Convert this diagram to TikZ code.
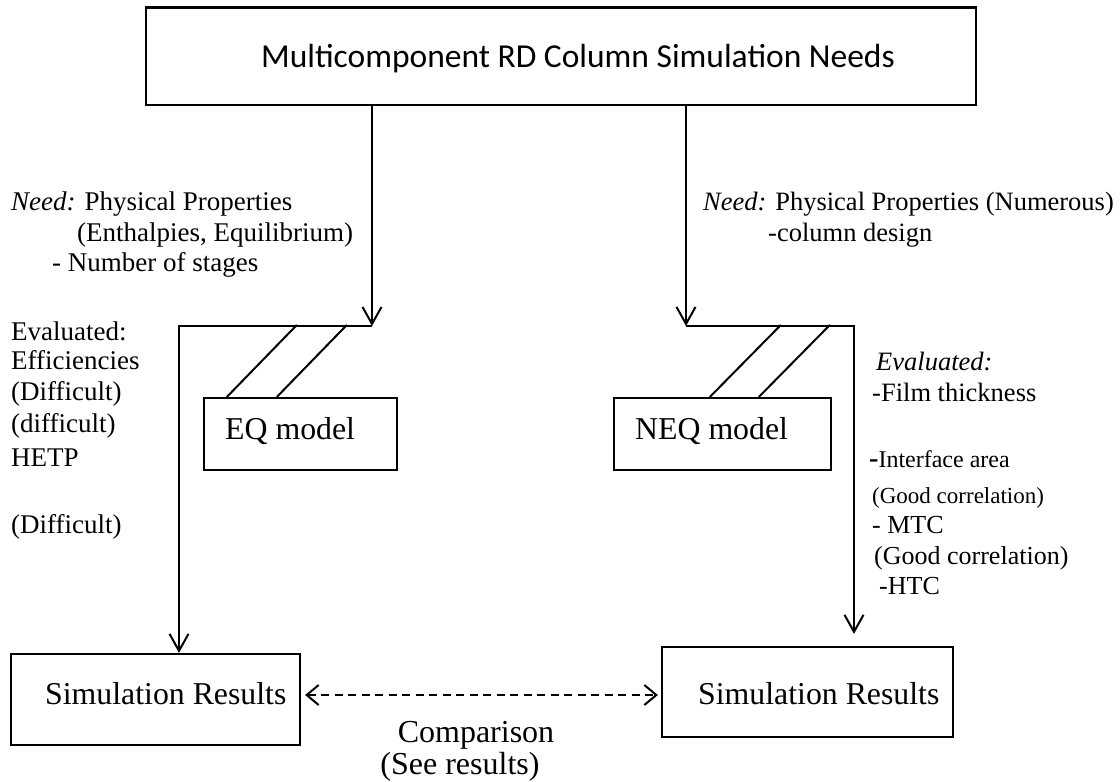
\documentclass[tikz,border=0pt]{standalone}
\usepackage{fontspec}
\setmainfont{Liberation Serif}
\newfontfamily\titlefont{Carlito}
\usetikzlibrary{arrows.meta}
\newcommand\fs[1]{\fontsize{#1}{#1}\selectfont}
\tikzset{
  box/.style={draw, line width=2.2pt, inner sep=0pt},
  lbl/.style={inner sep=0pt, anchor=base west, font=\fs{27}},
  boxtxt/.style={inner sep=0pt, anchor=base west, font=\fs{31.8}},
  con/.style={line width=2pt},
  arr/.style={con, -{Straight Barb[length=17pt,width=19pt,line width=2pt]}},
  darr/.style={con, dash pattern=on 8pt off 5.5pt,
    {Straight Barb[length=12pt,width=20pt,line width=2pt]}-{Straight Barb[length=12pt,width=20pt,line width=2pt]}},
}
\begin{document}
\begin{tikzpicture}[x=1pt,y=-1pt]
\useasboundingbox (0,0) rectangle (1120,782);
% boxes
\node[box, minimum width=830pt, minimum height=97.5pt] (top) at (561,56.25) {};
\node[inner sep=0pt, anchor=base, font=\titlefont\fs{33.5}] (title) at (578,67) {Multicomponent RD Column Simulation Needs};
\node[box, minimum width=193pt, minimum height=72pt] (eq) at (300.5,434) {};
\node[boxtxt] (eqt) at (225,439.5) {EQ model};
\node[box, minimum width=217pt, minimum height=72pt] (neq) at (722.5,434) {};
\node[boxtxt] (neqt) at (635,439.5) {NEQ model};
\node[box, minimum width=289pt, minimum height=91pt] (srl) at (155.5,699.5) {};
\node[boxtxt] (srlt) at (45,704.5) {Simulation Results};
\node[box, minimum width=291pt, minimum height=90pt] (srr) at (807.5,692) {};
\node[boxtxt] (srrt) at (698,704.5) {Simulation Results};
% junction coordinates
\coordinate (jl) at (372,326);
\coordinate (lv) at (179,326);
\coordinate (jr) at (686,326);
\coordinate (rv) at (854,326);
\coordinate (dy) at (0,695);
% connectors
\draw[arr] (top.south -| jl) -- (jl);
\draw[arr] (top.south -| jr) -- (jr);
\draw[arr] (jl) -- (lv) -- (lv |- srl.north);
\draw[arr, shorten >=12pt] (jr) -- (rv) -- (rv |- srr.north);
\draw[con] ([xshift=24pt]eq.north west) -- ++(70,-72);
\draw[con] ([xshift=74pt]eq.north west) -- ++(70,-72);
\draw[con] ([xshift=97pt]neq.north west) -- ++(71,-72);
\draw[con] ([xshift=146pt]neq.north west) -- ++(71,-72);
\draw[darr, shorten <=4pt, shorten >=3pt] (srl.east |- dy) -- (srr.west |- dy);
% labels left
\node[lbl] (n1) at (11,210) {\textit{Need:} Physical Properties};
\node[lbl] (n2) at (77,241) {(Enthalpies, Equilibrium)};
\node[lbl] (n3) at (52,271) {- Number of stages};
\node[lbl] (e1) at (11,340) {Evaluated:};
\node[lbl] (e2) at (11,369) {Efficiencies};
\node[lbl] (e3) at (11,400) {(Difficult)};
\node[lbl] (e4) at (11,432) {(difficult)};
\node[lbl] (e5) at (11,466) {HETP};
\node[lbl] (e6) at (11,533) {(Difficult)};
% labels right
\node[lbl, font=\fs{26.5}] (m1) at (703,210) {\textit{Need:} Physical Properties (Numerous)};
\node[lbl, font=\fs{26.5}] (m2) at (768,241) {-column design};
\node[lbl, font=\fs{26.5}] (r1) at (876,370) {\textit{Evaluated:}};
\node[lbl, font=\fs{26.5}] (r2) at (872,401) {-Film thickness};
\node[lbl, font=\fs{24}] (r3) at (869,467) {{\fs{28}\bfseries -}Interface area};
\node[lbl, font=\fs{23}] (r4) at (872,503) {(Good correlation)};
\node[lbl, font=\fs{26}] (r5) at (872,533) {- MTC};
\node[lbl, font=\fs{26}] (r6) at (874,564) {(Good correlation)};
\node[lbl, font=\fs{26}] (r7) at (879,594) {-HTC};
% comparison
\node[inner sep=0pt, anchor=base, font=\fs{32}] (cmp) at (476,742) {Comparison};
\node[inner sep=0pt, anchor=base, font=\fs{32}] (see) at (460,774) {(See results)};
\end{tikzpicture}
\end{document}
